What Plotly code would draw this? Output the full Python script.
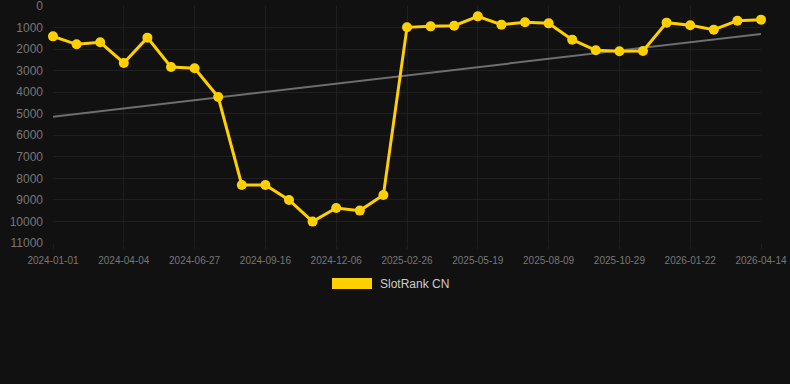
import numpy as np
import plotly.graph_objects as go

dates = [
    "2024-01-01", "2024-02-01", "2024-03-03", "2024-04-04", "2024-05-02", "2024-05-30",
    "2024-06-27", "2024-07-24", "2024-08-20", "2024-09-16", "2024-10-13", "2024-11-09",
    "2024-12-06", "2025-01-02", "2025-01-30", "2025-02-26", "2025-03-25", "2025-04-22",
    "2025-05-19", "2025-06-15", "2025-07-13", "2025-08-09", "2025-09-05", "2025-10-02",
    "2025-10-29", "2025-11-26", "2025-12-24", "2026-01-22", "2026-02-18", "2026-03-17",
    "2026-04-14",
]
ranks = [
    1408, 1779, 1686, 2645, 1469, 2831, 2893, 4223, 8306, 8306, 9002, 10007,
    9374, 9497, 8770, 990, 944, 913, 480, 866, 758, 805, 1562, 2057,
    2104, 2088, 773, 897, 1098, 681, 634,
]
series_name = "SlotRank CN"
y_ticks = list(range(0, 11001, 1000))
y_tick_text = [str(v) for v in y_ticks]

idx = np.arange(len(ranks))
slope, intercept = np.polyfit(idx, ranks, 1)
trend = (intercept + slope * idx).tolist()

GOLD = "#FFD000"
BG = "#111111"
GRID = "#1f1f1f"

fig = go.Figure()
fig.add_trace(go.Scatter(
    x=dates, y=trend, mode="lines",
    line=dict(color="#6e6e6e", width=2),
    showlegend=False, hoverinfo="skip",
))
fig.add_trace(go.Scatter(
    x=dates, y=ranks, mode="lines+markers", name=series_name,
    line=dict(color=GOLD, width=3),
    marker=dict(color=GOLD, size=10),
    cliponaxis=False, showlegend=False,
))

PLOT_H = 384 - 6 - 141
PLOT_W = 790 - 53 - 29

fig.update_layout(
    width=790, height=384,
    margin=dict(l=53, r=29, t=6, b=141),
    paper_bgcolor=BG, plot_bgcolor=BG,
    font=dict(family="Liberation Sans, Arial, sans-serif", color="#777777"),
    showlegend=False,
    xaxis=dict(
        type="category", range=[0, len(dates) - 1],
        tickvals=dates[::3], ticktext=dates[::3],
        showgrid=True, gridcolor=GRID, gridwidth=1,
        ticks="outside", ticklen=5, tickcolor=GRID,
        ticklabelstandoff=3, automargin=False,
        tickfont=dict(size=10, color="#777777"),
        zeroline=False, showline=False,
    ),
    yaxis=dict(
        range=[11000, 0], tickvals=y_ticks, ticktext=y_tick_text,
        showgrid=True, gridcolor=GRID, gridwidth=1,
        tickfont=dict(size=12, color="#777777"),
        ticks="", ticklabelstandoff=9, ticklabeloverflow="allow",
        automargin=False,
        zeroline=False, showline=False,
    ),
    shapes=[dict(
        type="rect", xref="paper", yref="paper",
        x0=(332 - 53) / PLOT_W, x1=(372 - 53) / PLOT_W,
        y0=(243 - 289) / PLOT_H, y1=(243 - 278) / PLOT_H,
        fillcolor=GOLD, line=dict(width=0),
    )],
    annotations=[dict(
        text=series_name, xref="paper", yref="paper",
        x=(378 - 53) / PLOT_W, y=(243 - 284) / PLOT_H,
        xanchor="left", yanchor="middle", showarrow=False,
        font=dict(size=12, color="#cccccc"),
    )],
)

fig.write_html("out.html")
